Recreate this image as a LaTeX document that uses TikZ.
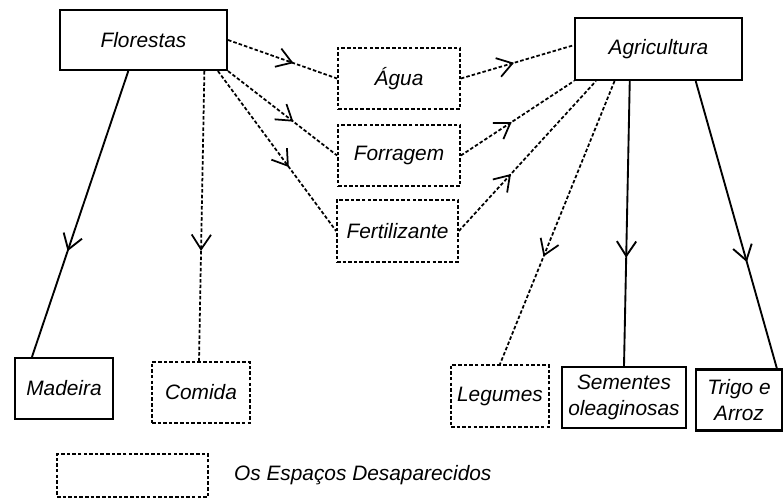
\documentclass[tikz,border=0pt]{standalone}
\usepackage{fontspec}
\setmainfont{Liberation Sans}
\usetikzlibrary{arrows.meta}
\usetikzlibrary{positioning}
\usetikzlibrary{calc}
\usetikzlibrary{decorations.markings}

\tikzset{
    txt/.style={font=\itshape\fontsize{17.8}{22.5}\selectfont},
    box/.style={txt, draw, line width=1.8pt, inner sep=0pt, align=center},
    lost/.style={box, line width=1.5pt, dash pattern=on 3pt off 1.8pt},
    solidline/.style={line width=1.6pt},
    dashline/.style={line width=1.5pt, dash pattern=on 3pt off 1.8pt},
    midarrow/.style={postaction={decorate}, decoration={markings, mark=at position #1 with {\arrow{>}}}}
}

\begin{document}
\begin{tikzpicture}[x=0.3mm, y=-0.3mm, >={Straight Barb[length=4.4mm, width=5.8mm]}]
    \useasboundingbox (0,0) rectangle (783,498);

    \node[box, minimum width=50.1mm, minimum height=18mm] (Flo) at (143.5,40) {Florestas};
    \node[box, minimum width=50.1mm, minimum height=18.6mm] (Agr) at (658.5,49) {Agricultura};

    \node[lost, minimum width=36.6mm, minimum height=18.3mm] (Agua) at (399,78.5) {Água};
    \node[lost, minimum width=36.6mm, minimum height=18.3mm] (Forr) at (399,155.5) {Forragem};
    \node[lost, minimum width=36.3mm, minimum height=18.6mm] (Fert) at (397.5,231) {Fertilizante};

    \node[box, minimum width=29.4mm, minimum height=18.3mm] (Mad) at (64,388.5) {Madeira};
    \node[lost, minimum width=29.4mm, minimum height=18.3mm] (Com) at (201,392.5) {Comida};
    \node[lost, minimum width=29.4mm, minimum height=18.6mm] (Leg) at (500,396) {Legumes};
    \node[box, minimum width=37.2mm, minimum height=18.3mm] (Sem) at (624,397.5) {Sementes\\oleaginosas};
    \node[box, minimum width=25.8mm, minimum height=18.3mm] (Tri) at (739,400) {Trigo e\\Arroz};

    % legenda
    \node[lost, minimum width=45.3mm, minimum height=12.9mm] (LegBox) at (132.5,475.5) {};
    \node[txt, inner sep=0pt] (LegText) [right=7.5mm of LegBox] {Os Espaços Desaparecidos};

    \draw[solidline, midarrow=.63] ($(Flo.south west)!.41!(Flo.south east)$) -- ($(Mad.north west)!.18!(Mad.north east)$);
    \draw[dashline, midarrow=.62] ($(Flo.south west)!.86!(Flo.south east)$) -- ($(Com.north west)!.48!(Com.north east)$);
    \draw[dashline, midarrow=.6] (Flo.east) -- (Agua.west);
    \draw[dashline, midarrow=.6] (Flo.south east) -- (Forr.west);
    \draw[dashline, midarrow=.6] ($(Flo.south west)!.94!(Flo.south east)$) -- (Fert.west);

    \draw[dashline, midarrow=.47] (Agua.east) -- ($(Agr.north west)!.44!(Agr.south west)$);
    \draw[dashline, midarrow=.45] (Forr.east) -- (Agr.south west);
    \draw[dashline, midarrow=.38] (Fert.east) -- ($(Agr.south west)!.13!(Agr.south east)$);

    \draw[dashline, midarrow=.62] ($(Agr.south west)!.24!(Agr.south east)$) -- (Leg.north);
    \draw[solidline, midarrow=.62] ($(Agr.south west)!.33!(Agr.south east)$) -- (Sem.north);
    \draw[solidline, midarrow=.63] ($(Agr.south west)!.72!(Agr.south east)$) -- ($(Tri.north west)!.93!(Tri.north east)$);
\end{tikzpicture}
\end{document}
